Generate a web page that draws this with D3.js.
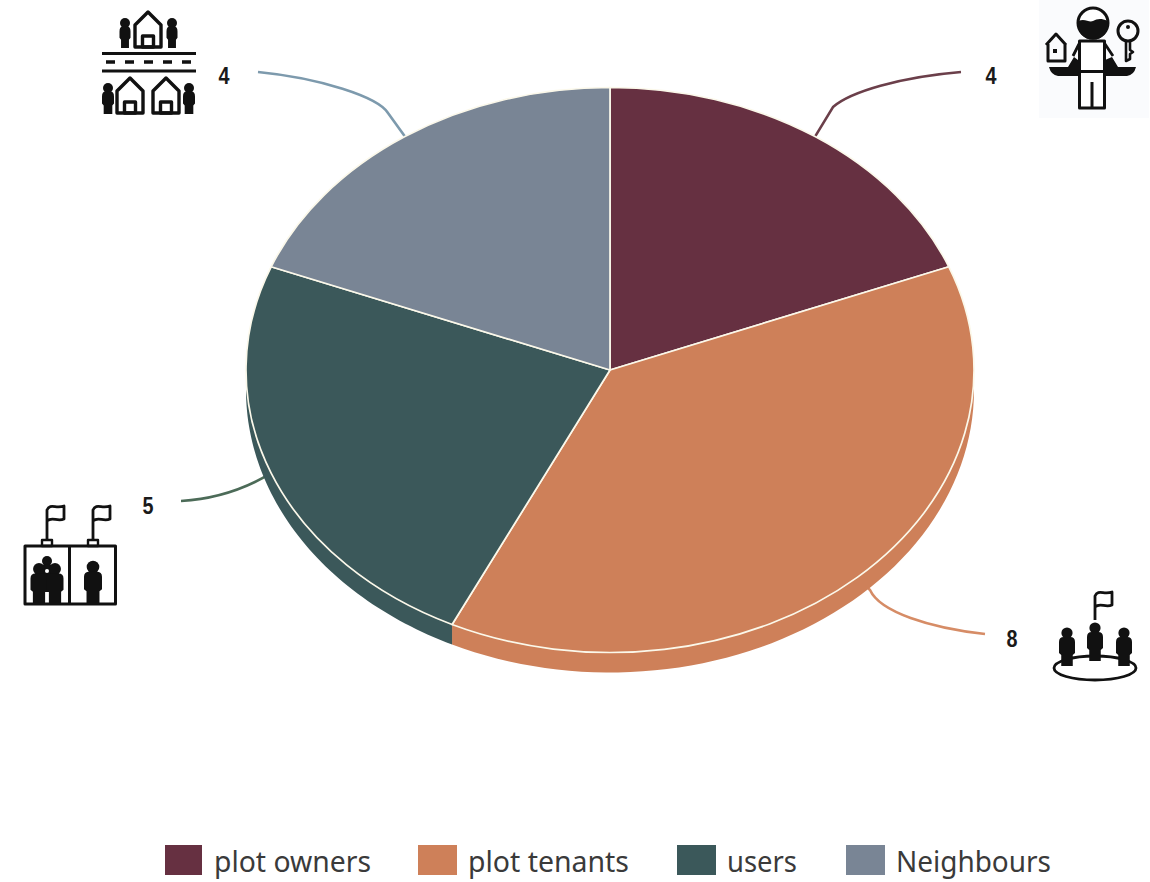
<!DOCTYPE html>
<html>
<head>
<meta charset="utf-8">
<script src="https://cdn.jsdelivr.net/npm/d3@7"></script>
<style>
html, body { margin: 0; padding: 0; background: #fff; }
svg { display: block; }
</style>
</head>
<body>
<svg id="chart" width="1150" height="882"></svg>
<script>
// Stakeholder groups and their counts
const categories = ["plot owners", "plot tenants", "users", "Neighbours"];
const counts = [4, 8, 5, 4];
const sliceColors = ["#663041", "#ce8059", "#3b585a", "#798595"];
const leaderColors = ["#6b3f4a", "#d68c66", "#4c6b58", "#7d9aad"];

const svg = d3.select("#chart");
const cx = 610, cy = 370, rx = 364, ry = 282.5, depth = 20;

const pie = d3.pie().sort(null).value(d => d);
const arcs = pie(counts);
const arc = d3.arc().innerRadius(0).outerRadius(rx);
const squash = `scale(1,${ry / rx})`;

// Point on the rim of the tilted disc at a given clockwise angle from twelve o'clock
const rimAt = (angle, drop = 0) => [cx + rx * Math.sin(angle), cy - ry * Math.cos(angle) + drop];
const rimPoint = a => rimAt((a.startAngle + a.endAngle) / 2);

// Outline of the part of a slice's side wall facing the viewer
function wallPath(a) {
  const from = Math.max(a.startAngle, Math.PI / 2);
  const to = Math.min(a.endAngle, 3 * Math.PI / 2);
  if (to <= from) return null;
  const steps = d3.range(0, 61).map(k => from + (to - from) * k / 60);
  const band = [...steps.map(t => rimAt(t)), ...steps.slice().reverse().map(t => rimAt(t, depth))];
  return d3.line()(band) + "Z";
}

// Leader routes, from the slice rim out to the count label
const leaderRoutes = [
  p => `M${p}L833,107C850,92 900,77 961,72`,
  p => `M${p}L870,590C880,612 930,628 985,634`,
  p => `M${p}Q230,498 181,501`,
  p => `M${p}L388,113C378,97 320,78 258,72`
];
const labelSpots = [[991, 76], [1012, 639], [148, 506], [224, 76]];

svg.append("g").selectAll("path").data(arcs).join("path")
  .attr("d", (d, i) => leaderRoutes[i](rimPoint(d)))
  .attr("fill", "none")
  .attr("stroke", (d, i) => leaderColors[i])
  .attr("stroke-width", 2.6);

// Side wall of the disc
svg.append("g").selectAll("path").data(arcs.filter(a => wallPath(a))).join("path")
  .attr("d", wallPath)
  .attr("fill", d => sliceColors[d.index]);

// Top face
svg.append("g")
  .attr("transform", `translate(${cx},${cy}) ${squash}`)
  .selectAll("path").data(arcs).join("path")
  .attr("d", arc)
  .attr("fill", (d, i) => sliceColors[i])
  .attr("stroke", "#fbf8ea")
  .attr("stroke-width", 1.7)
  .attr("stroke-linejoin", "round")
  .attr("vector-effect", "non-scaling-stroke");

// Count labels
svg.append("g").selectAll("text").data(arcs).join("text")
  .attr("transform", (d, i) => `translate(${labelSpots[i]}) scale(0.86,1)`)
  .attr("text-anchor", "middle")
  .attr("dominant-baseline", "central")
  .attr("font-family", "'Liberation Sans', Arial, sans-serif")
  .attr("font-weight", "700")
  .attr("font-size", 23)
  .attr("fill", "#1a1a1a")
  .text(d => d.data);

// Legend
const swatchX = [165, 418, 677, 846];
const swatchW = [37, 39, 39, 39];
const textX = [214, 468, 727, 896];
const textW = [157, 161, 70, 155];
const legend = svg.append("g").selectAll("g").data(categories).join("g");
legend.append("rect")
  .attr("x", (d, i) => swatchX[i]).attr("y", 845)
  .attr("width", (d, i) => swatchW[i]).attr("height", 30)
  .attr("fill", (d, i) => sliceColors[i]);
legend.append("text")
  .attr("x", (d, i) => textX[i]).attr("y", 872)
  .attr("textLength", (d, i) => textW[i])
  .attr("lengthAdjust", "spacingAndGlyphs")
  .attr("font-family", "'Noto Sans', 'Open Sans', sans-serif")
  .attr("font-size", 29)
  .attr("fill", "#3a3a3a")
  .text(d => d);

// Pictograms
const ink = "#111";
const icons = svg.append("g").attr("fill", "none").attr("stroke", ink).attr("stroke-linejoin", "round");

function person(g, x, headY, footY, w) {
  const r = Math.max(5, w * 0.35);
  g.append("circle").attr("cx", x).attr("cy", headY).attr("r", r).attr("fill", ink).attr("stroke", "none");
  const t = headY + r - 1.5;
  const legTop = footY - (footY - t) * 0.38;
  g.append("path").attr("fill", ink).attr("stroke", "none")
    .attr("d", `M${x - w * 0.36},${footY}L${x - w * 0.36},${legTop}L${x - w / 2},${legTop - 2}L${x - w / 2},${t + 5}Q${x - w / 2},${t} ${x - w * 0.2},${t}L${x + w * 0.2},${t}Q${x + w / 2},${t} ${x + w / 2},${t + 5}L${x + w / 2},${legTop - 2}L${x + w * 0.36},${legTop}L${x + w * 0.36},${footY}Z`);
}
function house(g, x, apex, base, hw) {
  g.append("path").attr("stroke-width", 3.4)
    .attr("d", `M${x},${apex}L${x + hw},${apex + 13}L${x + hw},${base}L${x - hw},${base}L${x - hw},${apex + 13}Z`);
  g.append("rect").attr("x", x - 5.5).attr("y", base - 11).attr("width", 11).attr("height", 11).attr("stroke-width", 3.4);
}
function flag(g, x, bottom, top) {
  g.append("path").attr("stroke-width", 2.8)
    .attr("d", `M${x},${bottom}L${x},${top + 4}C${x + 3},${top - 3} ${x + 9},${top + 3} ${x + 17},${top}L${x + 17},${top + 13}C${x + 10},${top + 16} ${x + 5},${top + 10} ${x},${top + 15}`);
}

// Street with houses and residents
const street = icons.append("g");
house(street, 148, 12, 47, 13);
person(street, 125, 23, 48, 11);
person(street, 172, 23, 48, 11);
street.append("path").attr("stroke-width", 3).attr("d", "M102,53.5L196,53.5M102,71L196,71");
street.append("path").attr("stroke-width", 3.5).attr("stroke-dasharray", "9 10").attr("d", "M106,62L196,62");
house(street, 130, 78, 113, 13);
house(street, 166, 78, 113, 13);
person(street, 108, 88, 114, 12);
person(street, 189, 88, 114, 12);

// Owner weighing a house against a key
const owner = icons.append("g");
owner.append("rect").attr("x", 1039).attr("y", 0).attr("width", 110).attr("height", 118).attr("fill", "#fafbfd").attr("stroke", "none");
owner.append("circle").attr("cx", 1093).attr("cy", 23).attr("r", 15).attr("stroke-width", 3).attr("fill", "#fff");
owner.append("path").attr("fill", ink).attr("stroke", "none")
  .attr("d", "M1078.5,21C1085,18 1089,23 1093,21C1097,19 1101,18 1107.5,21A15,15 0 1 1 1078.5,21Z");
owner.append("path").attr("stroke-width", 3).attr("fill", "#fff")
  .attr("d", "M1079.5,41L1104.5,41L1104.5,108L1079.5,108ZM1079.5,71.5L1104.5,71.5M1092,82L1092,108");
owner.append("path").attr("stroke-width", 2.8).attr("d", "M1079,44L1073,56M1105,44L1113,56");
owner.append("path").attr("fill", ink).attr("stroke", "none")
  .attr("d", "M1049,67L1068,67L1074,57L1078,60L1078,76L1058,76Q1051,75 1049,67ZM1105,60L1112,57L1118,67L1136,67Q1134,75 1127,76L1105,76Z");
owner.append("path").attr("stroke-width", 3)
  .attr("d", "M1046,45L1056,34L1066,45M1048,44L1048,61L1065,61L1065,44");
owner.append("rect").attr("x", 1053).attr("y", 49).attr("width", 4).attr("height", 4).attr("fill", ink).attr("stroke", "none");
owner.append("circle").attr("cx", 1128).attr("cy", 31).attr("r", 10).attr("stroke-width", 3);
owner.append("circle").attr("cx", 1128).attr("cy", 27).attr("r", 2).attr("fill", ink).attr("stroke", "none");
owner.append("path").attr("stroke-width", 2.6).attr("d", "M1126,41L1126,61L1130,59L1130,54L1133,52L1130,50L1130,41");

// Two booths with flags and users
const booths = icons.append("g");
booths.append("rect").attr("x", 25).attr("y", 546).attr("width", 90.5).attr("height", 58).attr("stroke-width", 3);
booths.append("path").attr("stroke-width", 3).attr("d", "M69.5,546L69.5,604");
[47, 93].forEach(x => {
  booths.append("rect").attr("x", x - 5).attr("y", 540).attr("width", 10).attr("height", 6).attr("stroke-width", 2.4);
  flag(booths, x, 540, 506);
});
person(booths, 47, 561, 592, 13);
person(booths, 39, 569, 603, 17);
person(booths, 55, 569, 603, 17);
booths.append("circle").attr("cx", 47).attr("cy", 571).attr("r", 2).attr("fill", "#fff").attr("stroke", "none");
person(booths, 93, 567, 603, 18);

// Tenants gathered around a flag
const circleGroup = icons.append("g");
circleGroup.append("ellipse").attr("cx", 1095).attr("cy", 668).attr("rx", 41).attr("ry", 12).attr("stroke-width", 2.8);
flag(circleGroup, 1095, 620, 592);
person(circleGroup, 1067, 633, 666, 16);
person(circleGroup, 1095, 628, 661, 16);
person(circleGroup, 1124, 633, 666, 16);
</script>
</body>
</html>
